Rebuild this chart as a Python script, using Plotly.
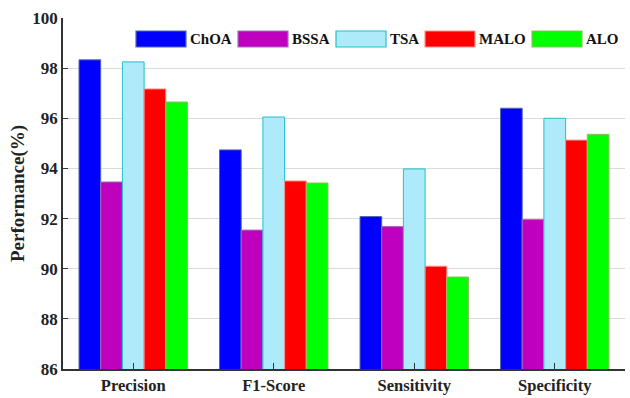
import plotly.graph_objects as go

categories = ["Precision", "F1-Score", "Sensitivity", "Specificity"]
methods = ["ChOA", "BSSA", "TSA", "MALO", "ALO"]
choa = [98.33, 94.74, 92.08, 96.40]
bssa = [93.46, 91.54, 91.68, 91.96]
tsa = [98.25, 96.05, 93.98, 96.00]
malo = [97.17, 93.50, 90.10, 95.13]
alo = [96.65, 93.42, 89.67, 95.36]

series = [choa, bssa, tsa, malo, alo]
fills = ["#0000FF", "#BF00BF", "#AEEBFA", "#FF0000", "#00FF00"]
lines = ["#5068B0", "#A070B8", "#22C0CC", "#FF9090", "#90C060"]

W, H = 630, 398
L, R, T, B = 63, 5, 18, 29
pw, ph = W - L - R, H - T - B

fig = go.Figure()
for name, vals, fc, lc in zip(methods, series, fills, lines):
    fig.add_trace(go.Bar(
        x=categories, y=vals, name=name, showlegend=False,
        marker=dict(color=fc, line=dict(color=lc, width=1)),
    ))

font_family = "Liberation Serif"

# custom legend (large swatches as in the reference)
swatch_x = [136, 238, 336, 425, 532]
sw_w, sw_top, sw_bot = 50, 31, 47
def px2x(p):
    return (p - L) / pw
def py2y(p):
    return 1 - (p - T) / ph
shapes = []
annotations = []
for name, fc, lc, sx in zip(methods, fills, lines, swatch_x):
    shapes.append(dict(type="rect", xref="paper", yref="paper",
                       x0=px2x(sx), x1=px2x(sx + sw_w), y0=py2y(sw_bot), y1=py2y(sw_top),
                       fillcolor=fc, line=dict(color=lc, width=1.2)))
    annotations.append(dict(xref="paper", yref="paper", x=px2x(sx + sw_w + 2),
                            y=py2y((sw_top + sw_bot) / 2), xanchor="left", yanchor="middle",
                            text=name, showarrow=False,
                            font=dict(family=font_family, size=15, color="#111", weight="bold")))

fig.update_layout(
    width=W, height=H,
    margin=dict(l=L, r=R, t=T, b=B, autoexpand=False),
    paper_bgcolor="white", plot_bgcolor="white",
    barmode="group", bargap=0.228, bargroupgap=0,
    font=dict(family=font_family, size=16, color="#222"),
    shapes=shapes, annotations=annotations,
    xaxis=dict(
        automargin=False,
        showline=True, linecolor="#333", linewidth=1.5,
        ticks="inside", ticklen=6, tickcolor="#333",
        tickfont=dict(family=font_family, size=16.5, color="#222", weight="bold"),
        showgrid=False,
    ),
    yaxis=dict(
        automargin=False,
        range=[86, 100], dtick=2, tick0=86,
        showline=True, linecolor="#333", linewidth=1.5,
        ticks="inside", ticklen=5, tickcolor="#333",
        tickfont=dict(family=font_family, size=17, color="#222", weight="bold"),
        showgrid=True, gridcolor="#DADADA", gridwidth=1,
        title=dict(text="Performance(%)", standoff=3,
                   font=dict(family=font_family, size=19, color="#222", weight="bold")),
        zeroline=False,
    ),
)
fig.write_html("out.html")
